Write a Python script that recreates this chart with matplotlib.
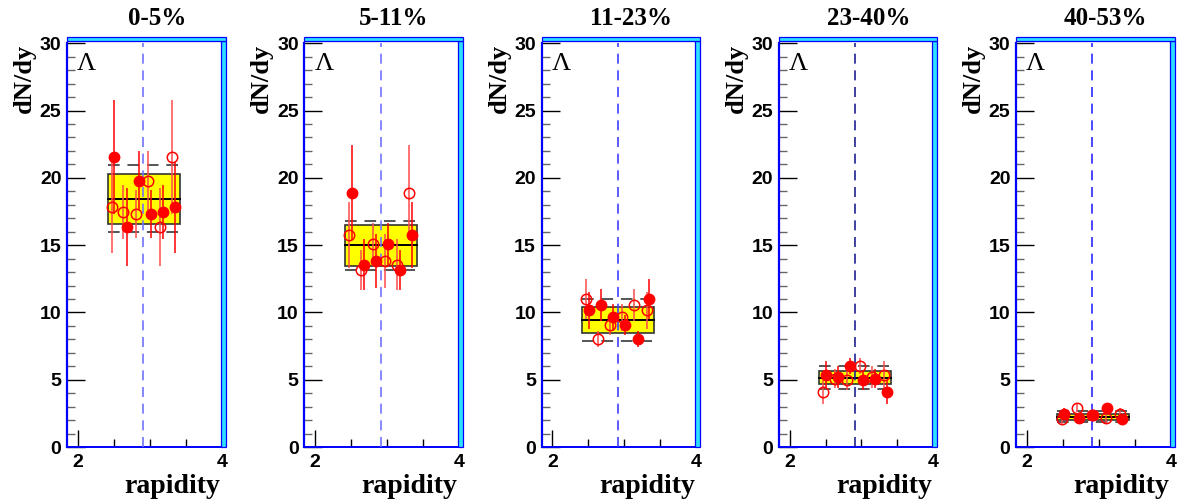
import numpy as np
import matplotlib
matplotlib.use('Agg')
import matplotlib.pyplot as plt
from matplotlib.patches import Rectangle
from matplotlib.ticker import FixedLocator, MultipleLocator

plt.rcParams['font.family'] = ['Liberation Sans', 'DejaVu Sans']

W, H = 1178, 503

# centrality classes
cent_labels = ['0-5%', '5-11%', '11-23%', '23-40%', '40-53%']
y_mid = 2.91  # mid-rapidity, used for reflected (open) points

# measured rapidity bins
rap_6 = [2.51, 2.68, 2.845, 3.015, 3.185, 3.35]
rap_5 = [2.52, 2.72, 2.92, 3.12, 3.33]
rap = [rap_6, rap_6, rap_6, rap_6, rap_5]

# dN/dy of Lambda, per centrality
dndy = [
    [21.55, 16.35, 19.8, 17.3, 17.45, 17.8],
    [18.9, 13.55, 13.85, 15.05, 13.15, 15.75],
    [10.15, 10.55, 9.65, 9.05, 8.0, 11.0],
    [5.38, 5.2, 6.0, 4.96, 5.08, 4.09],
    [2.48, 2.16, 2.41, 2.93, 2.06],
]
dndy_err = [
    [4.25, 2.9, 2.2, 1.8, 2.0, 3.4],
    [3.55, 1.9, 2.0, 1.6, 1.5, 2.45],
    [1.4, 1.2, 1.0, 0.75, 0.6, 1.5],
    [1.0, 0.8, 0.6, 0.7, 0.7, 0.9],
    [0.4, 0.35, 0.3, 0.35, 0.35],
]

# averaged value, stat band (yellow box), syst band (dashed lines)
mean_dndy = [18.45, 15.0, 9.47, 5.16, 2.23]
stat_lo = [16.6, 13.46, 8.5, 4.66, 1.98]
stat_hi = [20.28, 16.48, 10.41, 5.65, 2.48]
sys_lo = [16.0, 13.14, 7.88, 4.34, 1.86]
sys_hi = [20.95, 16.8, 11.03, 6.0, 2.68]
box_rap = [2.415, 3.415]

mid_colors = ['#7373ff', '#7373ff', '#4040ff', '#202090', '#2a2aff']

fig = plt.figure(figsize=(W / 100, H / 100), dpi=100)
fig.patch.set_facecolor('white')

ax_left_px = [67, 304.25, 541.5, 778.75, 1016]
ax_w_px = 154.7
ax_top_px, ax_bot_px = 43.3, 447.0

serif = ['Liberation Serif', 'DejaVu Serif']

for i in range(5):
    lx = ax_left_px[i]
    ax = fig.add_axes([lx / W, 1 - ax_bot_px / H, ax_w_px / W, (ax_bot_px - ax_top_px) / H])
    ax.set_xlim(1.85, 4.0)
    ax.set_ylim(0, 30)

    # yellow stat box + mean line
    ax.add_patch(Rectangle((box_rap[0], stat_lo[i]), box_rap[1] - box_rap[0],
                           stat_hi[i] - stat_lo[i], facecolor='#ffff00',
                           edgecolor='#333333', lw=1.2, zorder=1))
    ax.plot(box_rap, [mean_dndy[i]] * 2, color='black', lw=1.4, zorder=2)
    for yv in (sys_lo[i], sys_hi[i]):
        ax.plot(box_rap, [yv, yv], color='#555555', lw=1.4,
                dashes=(6, 4), zorder=2)

    # mid-rapidity line
    ax.plot([y_mid, y_mid], [0, 30], color=mid_colors[i], lw=1.2,
            dashes=(6, 4), zorder=3)

    r = np.array(rap[i])
    v = np.array(dndy[i])
    e = np.array(dndy_err[i])
    r_ref = 2 * y_mid - r

    # reflected points (open)
    ax.errorbar(r_ref, v, yerr=e, fmt='none', ecolor='#ff4a4a', elinewidth=1.1,
                capsize=0, zorder=4)
    ax.plot(r_ref, v, 'o', ms=7.5, mfc='none', mec='red', mew=1.1, zorder=5)
    # measured points (filled)
    ax.errorbar(r, v, yerr=e, fmt='none', ecolor='red', elinewidth=1.1,
                capsize=0, zorder=4)
    ax.plot(r, v, 'o', ms=7.5, mfc='red', mec='red', zorder=6)

    # axes style
    for s in ('top', 'right'):
        ax.spines[s].set_visible(False)
    ax.spines['left'].set_color('#0000ff')
    ax.spines['left'].set_linewidth(1.6)
    ax.spines['bottom'].set_color('#0000ff')
    ax.spines['bottom'].set_linewidth(1.4)

    ax.set_yticks(np.arange(0, 31, 5))
    ax.yaxis.set_minor_locator(MultipleLocator(1))
    ax.set_xticks([2, 4])
    ax.set_xticklabels(['2', '4'])
    ax.xaxis.set_minor_locator(FixedLocator([2.5, 3.0, 3.5]))
    ax.tick_params(axis='y', which='major', direction='in', length=13, width=1,
                   color='black', labelsize=14, pad=4)
    ax.tick_params(axis='y', which='minor', direction='in', length=6, width=1,
                   color='#666666')
    ax.tick_params(axis='x', which='major', direction='in', length=12, width=1,
                   color='black', labelsize=14, pad=5)
    ax.tick_params(axis='x', which='minor', direction='in', length=6, width=1,
                   color='black')
    for lbl in ax.get_xticklabels() + ax.get_yticklabels():
        lbl.set_fontweight('bold')

    ax.text(0.065, 0.975, 'Λ', transform=ax.transAxes, ha='left', va='top',
            fontsize=19, family=serif)
    ax.text(0.58, 1.062, cent_labels[i], transform=ax.transAxes, ha='center',
            va='center', fontsize=18, fontweight='bold', family=serif)
    ax.text(-0.275, 1.0, 'dN/dy', transform=ax.transAxes, rotation=90,
            ha='center', va='top', fontsize=19, fontweight='bold', family=serif)
    ax.text(0.99, -0.097, 'rapidity', transform=ax.transAxes, ha='right',
            va='center', fontsize=20, fontweight='bold', family=serif)

    # ROOT-like bevelled frame on top and right
    rx = lx + ax_w_px
    fig.add_artist(Rectangle(((rx - 1.0) / W, 1 - ax_bot_px / H), 5 / W,
                             (ax_bot_px - ax_top_px + 2.5) / H,
                             transform=fig.transFigure, facecolor='#2ee0ff',
                             edgecolor='#0000ff', lw=0.9))
    fig.add_artist(Rectangle((lx / W, 1 - (ax_top_px - 2.5) / H),
                             (rx + 4.0 - lx) / W, 3.5 / H,
                             transform=fig.transFigure, facecolor='#2ee0ff',
                             edgecolor='#0000ff', lw=0.9))

fig.savefig('out.png', dpi=100, facecolor='white')
